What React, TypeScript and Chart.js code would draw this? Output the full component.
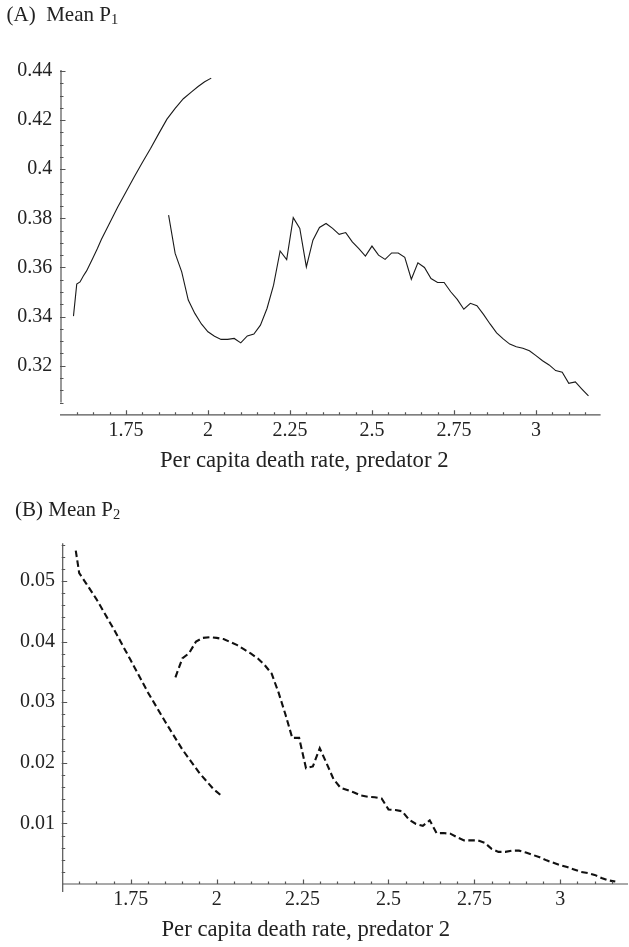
import React, { useEffect, useRef } from "react";
import { Chart, registerables } from "chart.js";

Chart.register(...registerables);

// ---------- Data ----------
// Panel A: Mean P1
const aLeftX = [1.59, 1.6, 1.61, 1.62, 1.63, 1.65, 1.663, 1.675, 1.7, 1.725, 1.75, 1.775, 1.8, 1.825, 1.85, 1.875, 1.9, 1.925, 1.95, 1.97, 1.99, 2.01];
const aLeftY = [0.3402, 0.3532, 0.3541, 0.3565, 0.3586, 0.3641, 0.3677, 0.3714, 0.378, 0.3846, 0.3907, 0.3968, 0.4027, 0.4084, 0.4145, 0.4204, 0.4248, 0.4287, 0.4315, 0.4337, 0.4356, 0.4371];

// shared x grid of the right branch (both panels)
const branchX = [
  1.88, 1.9, 1.92, 1.94, 1.96, 1.98, 2.0, 2.02, 2.04, 2.06, 2.08, 2.1, 2.12, 2.14, 2.16, 2.18, 2.2, 2.22, 2.24, 2.26,
  2.28, 2.3, 2.32, 2.34, 2.36, 2.38, 2.4, 2.42, 2.44, 2.46, 2.48, 2.5, 2.52, 2.54, 2.56, 2.58, 2.6, 2.62, 2.64, 2.66,
  2.68, 2.7, 2.72, 2.74, 2.76, 2.78, 2.8, 2.82, 2.84, 2.86, 2.88, 2.9, 2.92, 2.94, 2.96, 2.98, 3.0, 3.02, 3.04, 3.06,
  3.08, 3.1, 3.12, 3.14, 3.16,
];
const aRightY = [
  0.3813, 0.3657, 0.3582, 0.3467, 0.3413, 0.337, 0.3338, 0.332, 0.3307, 0.3307, 0.3311, 0.3293, 0.3321, 0.3329, 0.3365, 0.3433, 0.3528, 0.3667, 0.3632, 0.3803,
  0.3759, 0.3602, 0.3711, 0.3763, 0.3779, 0.3759, 0.3735, 0.3742, 0.3704, 0.3677, 0.3646, 0.3687, 0.365, 0.3633, 0.3659, 0.3659, 0.3641, 0.3552, 0.3619, 0.36,
  0.3555, 0.3539, 0.3539, 0.3501, 0.347, 0.343, 0.3454, 0.3444, 0.3409, 0.337, 0.3334, 0.3309, 0.3288, 0.3277, 0.3271, 0.3261, 0.3241, 0.322, 0.3203, 0.318,
  0.3173, 0.3128, 0.3134, 0.3105, 0.3077,
];

// Panel B: Mean P2
const bLeftX = [1.59, 1.6, 1.62, 1.65, 1.7, 1.75, 1.8, 1.85, 1.9, 1.95, 1.99, 2.015];
const bLeftY = [0.055, 0.0513, 0.0496, 0.047, 0.0421, 0.0369, 0.0316, 0.0268, 0.0222, 0.0183, 0.0157, 0.0145];
const bRightY = [
  0.0341, 0.0372, 0.0381, 0.04, 0.0406, 0.0407, 0.0406, 0.0404, 0.0399, 0.0394, 0.0387, 0.038, 0.0372, 0.0361, 0.0347, 0.0316, 0.028, 0.0241, 0.0241, 0.0191,
  0.0194, 0.0224, 0.0199, 0.0173, 0.0159, 0.0155, 0.0151, 0.0146, 0.0144, 0.0143, 0.0141, 0.0123, 0.0122, 0.012, 0.0106, 0.0099, 0.0096, 0.0105, 0.0084, 0.0084,
  0.0083, 0.0077, 0.0072, 0.0072, 0.0072, 0.0068, 0.0058, 0.0053, 0.0053, 0.0055, 0.0055, 0.0052, 0.0048, 0.0044, 0.0039, 0.0035, 0.0031, 0.0028, 0.0024, 0.002,
  0.0018, 0.0015, 0.001, 0.0006, 0.0004,
];

// Tick values and labels
const xTickValues = [1.75, 2, 2.25, 2.5, 2.75, 3];
const xTickLabels = ["1.75", "2", "2.25", "2.5", "2.75", "3"];
const aYTickValues = [0.32, 0.34, 0.36, 0.38, 0.4, 0.42, 0.44];
const aYTickLabels = ["0.32", "0.34", "0.36", "0.38", "0.4", "0.42", "0.44"];
const bYTickValues = [0.01, 0.02, 0.03, 0.04, 0.05];
const bYTickLabels = ["0.01", "0.02", "0.03", "0.04", "0.05"];

const xTitle = "Per capita death rate, predator 2";

// ---------- Styles ----------
const FONT = "'Liberation Serif', 'Times New Roman', serif";
const TEXT = "#222";
const AXIS = "#555";

function pts(xs: number[], ys: number[]) {
  return xs.map((x, i) => ({ x, y: ys[i] }));
}

function range(a: number, b: number, step: number) {
  const out: number[] = [];
  const n = Math.round((b - a) / step);
  for (let i = 0; i <= n; i++) out.push(+(a + i * step).toFixed(6));
  return out;
}

type PanelCfg = {
  width: number;
  height: number;
  padTop: number;
  padRight: number;
  yWidth: number;
  xHeight: number;
  xMin: number;
  xMax: number;
  yMin: number;
  yMax: number;
  yTicks: number[];
  yLabels: string[];
  yMinorStep: number;
  yMinorFrom: number;
  yMinorTo: number;
  yLineFrom: number;
  yLineTo: number;
  yLineBelow: number;
  xLineLeft: number;
  xLabelPad: number;
  yLabelPad: number;
  datasets: any[];
};

function axesPlugin(cfg: PanelCfg) {
  return {
    id: "customAxes",
    afterDraw(chart: any) {
      const ctx = chart.ctx as CanvasRenderingContext2D;
      const xs = chart.scales.x;
      const ys = chart.scales.y;
      const ca = chart.chartArea;
      ctx.save();
      ctx.strokeStyle = AXIS;
      ctx.lineWidth = 1.2;
      // y axis line
      ctx.beginPath();
      ctx.moveTo(ca.left, ys.getPixelForValue(cfg.yLineTo));
      ctx.lineTo(ca.left, ys.getPixelForValue(cfg.yLineFrom) + cfg.yLineBelow);
      ctx.stroke();
      // x axis line
      ctx.beginPath();
      ctx.moveTo(ca.left - cfg.xLineLeft, ca.bottom);
      ctx.lineTo(ca.right, ca.bottom);
      ctx.stroke();
      // x ticks
      const xMinor = range(1.6, 3.15, 0.05);
      ctx.beginPath();
      for (const v of xMinor) {
        const major = xTickValues.some((m) => Math.abs(m - v) < 1e-6);
        const p = Math.round(xs.getPixelForValue(v)) + 0.5;
        ctx.moveTo(p, ca.bottom);
        ctx.lineTo(p, ca.bottom - (major ? 4.5 : 2.5));
      }
      // y ticks
      const yMinor = range(cfg.yMinorFrom, cfg.yMinorTo, cfg.yMinorStep);
      for (const v of yMinor) {
        const major = cfg.yTicks.some((m) => Math.abs(m - v) < 1e-6);
        const p = Math.round(ys.getPixelForValue(v)) + 0.5;
        ctx.moveTo(ca.left - 1, p);
        ctx.lineTo(ca.left + (major ? 4.5 : 2.5), p);
      }
      ctx.stroke();
      ctx.restore();
    },
  };
}

function Panel({ cfg }: { cfg: PanelCfg }) {
  const ref = useRef<HTMLCanvasElement | null>(null);
  useEffect(() => {
    if (!ref.current) return;
    const chart = new Chart(ref.current, {
      type: "scatter",
      data: { datasets: cfg.datasets },
      options: {
        animation: false,
        responsive: false,
        devicePixelRatio: 1,
        layout: { padding: { top: cfg.padTop, right: cfg.padRight, left: 0, bottom: 0 } },
        plugins: { legend: { display: false }, tooltip: { enabled: false }, title: { display: false } },
        elements: { point: { radius: 0, hoverRadius: 0 } },
        scales: {
          x: {
            type: "linear",
            min: cfg.xMin,
            max: cfg.xMax,
            grid: { display: false, drawTicks: false },
            border: { display: false },
            afterBuildTicks: (s: any) => {
              s.ticks = xTickValues.map((v) => ({ value: v }));
            },
            afterFit: (s: any) => {
              s.height = cfg.xHeight;
            },
            ticks: {
              autoSkip: false,
              maxRotation: 0,
              padding: cfg.xLabelPad,
              color: TEXT,
              font: { family: FONT, size: 20 },
              callback: (v: any) => {
                const i = xTickValues.findIndex((m) => Math.abs(m - Number(v)) < 1e-6);
                return i >= 0 ? xTickLabels[i] : "";
              },
            },
          },
          y: {
            type: "linear",
            min: cfg.yMin,
            max: cfg.yMax,
            grid: { display: false, drawTicks: false },
            border: { display: false },
            afterBuildTicks: (s: any) => {
              s.ticks = cfg.yTicks.map((v) => ({ value: v }));
            },
            afterFit: (s: any) => {
              s.width = cfg.yWidth;
            },
            ticks: {
              autoSkip: false,
              padding: cfg.yLabelPad,
              color: TEXT,
              font: { family: FONT, size: 20 },
              callback: (v: any) => {
                const i = cfg.yTicks.findIndex((m) => Math.abs(m - Number(v)) < 1e-6);
                return i >= 0 ? cfg.yLabels[i] : "";
              },
            },
          },
        },
      },
      plugins: [axesPlugin(cfg)],
    } as any);
    return () => chart.destroy();
  }, [cfg]);
  return (
    <canvas
      ref={ref}
      width={cfg.width}
      height={cfg.height}
      style={{ display: "block", width: cfg.width, height: cfg.height }}
    />
  );
}

const solid = (data: any) => ({
  data,
  showLine: true,
  borderColor: "#1a1a1a",
  borderWidth: 1.1,
  pointRadius: 0,
  fill: false,
  tension: 0,
});
const dashed = (data: any) => ({
  data,
  showLine: true,
  borderColor: "#111",
  borderWidth: 2.1,
  borderDash: [6.5, 3.5],
  pointRadius: 0,
  fill: false,
  tension: 0,
});

const cfgA: PanelCfg = {
  width: 629,
  height: 480,
  padTop: 71,
  padRight: 28.4,
  yWidth: 61,
  xHeight: 65.2,
  xMin: 1.552,
  xMax: 3.197,
  yMin: 0.3,
  yMax: 0.44,
  yTicks: aYTickValues,
  yLabels: aYTickLabels,
  yMinorStep: 0.005,
  yMinorFrom: 0.305,
  yMinorTo: 0.44,
  yLineFrom: 0.305,
  yLineTo: 0.4404,
  yLineBelow: 0,
  xLineLeft: 1,
  xLabelPad: 3.5,
  yLabelPad: 8.7,
  datasets: [solid(pts(aLeftX, aLeftY)), solid(pts(branchX, aRightY))],
};

const cfgB: PanelCfg = {
  width: 629,
  height: 467,
  padTop: 63.3,
  padRight: 1,
  yWidth: 62.7,
  xHeight: 63,
  xMin: 1.552,
  xMax: 3.197,
  yMin: 0,
  yMax: 0.0562,
  yTicks: bYTickValues,
  yLabels: bYTickLabels,
  yMinorStep: 0.002,
  yMinorFrom: 0.002,
  yMinorTo: 0.056,
  yLineFrom: 0,
  yLineTo: 0.0562,
  yLineBelow: 8,
  xLineLeft: 0,
  xLabelPad: 4,
  yLabelPad: 7.7,
  datasets: [dashed(pts(bLeftX, bLeftY)), dashed(pts(branchX, bRightY))],
};

const labelStyle: React.CSSProperties = {
  position: "absolute",
  fontFamily: FONT,
  fontSize: 21,
  lineHeight: "21px",
  color: TEXT,
  whiteSpace: "pre",
};
const titleStyle: React.CSSProperties = {
  position: "absolute",
  fontFamily: FONT,
  fontSize: 22.7,
  lineHeight: "22.7px",
  color: TEXT,
  whiteSpace: "pre",
};
const subStyle: React.CSSProperties = { fontSize: 14.5, verticalAlign: -3, lineHeight: 0 };

export default function App() {
  return (
    <div style={{ position: "absolute", left: 0, top: 0, width: 629, height: 947, background: "#fff" }}>
      <div style={{ position: "absolute", left: 0, top: 0 }}>
        <Panel cfg={cfgA} />
      </div>
      <div style={{ position: "absolute", left: 0, top: 480 }}>
        <Panel cfg={cfgB} />
      </div>
      <div style={{ ...labelStyle, left: 6.5, top: 4.3 }}>
        {"(A)  Mean P"}
        <sub style={subStyle}>1</sub>
      </div>
      <div style={{ ...labelStyle, left: 15, top: 498.5 }}>
        {"(B) Mean P"}
        <sub style={subStyle}>2</sub>
      </div>
      <div style={{ ...titleStyle, left: 160, top: 448.6 }}>{xTitle}</div>
      <div style={{ ...titleStyle, left: 161.5, top: 918 }}>{xTitle}</div>
    </div>
  );
}
